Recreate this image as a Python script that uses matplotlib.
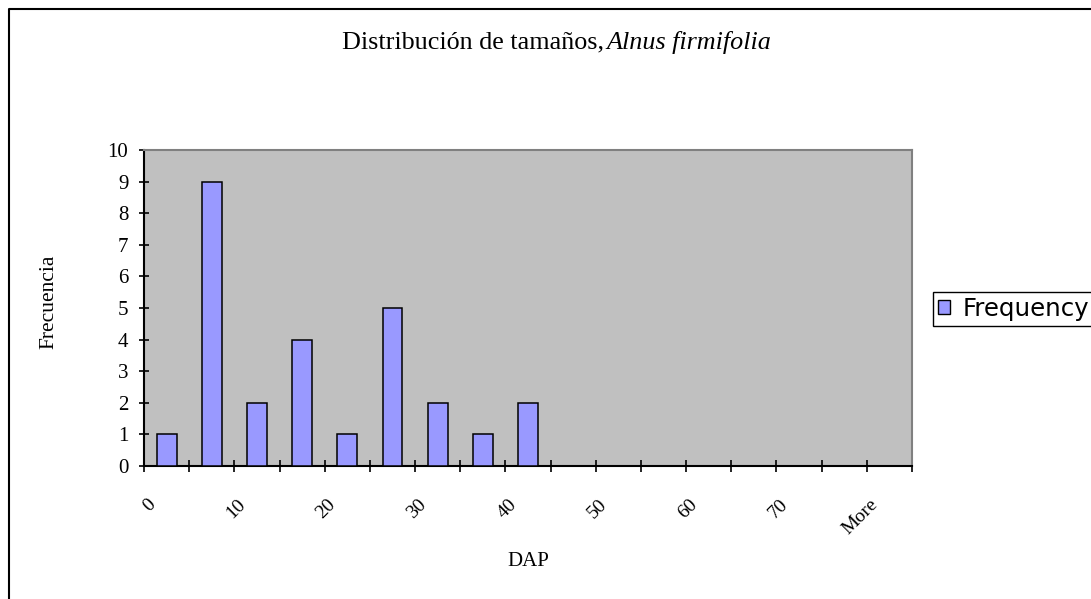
import numpy as np
import matplotlib.pyplot as plt
from matplotlib.lines import Line2D
from matplotlib.patches import Patch
from matplotlib.transforms import ScaledTranslation

# --- DATA ---
bins = ["0", "5", "10", "15", "20", "25", "30", "35", "40", "45",
        "50", "55", "60", "65", "70", "75", "More"]
frequency = [1, 9, 2, 4, 1, 5, 2, 1, 2, 0, 0, 0, 0, 0, 0, 0, 0]
shown_labels = ["0", "10", "20", "30", "40", "50", "60", "70", "More"]

# --- STYLE ---
bar_color = "#9999FF"
plot_bg = "#C0C0C0"
serif = ["Liberation Serif", "DejaVu Serif"]

fig = plt.figure(figsize=(10.91, 5.99), dpi=100)
W, H = 1091, 599
ax = fig.add_axes([144 / W, 1 - 466 / H, (912 - 144) / W, (466 - 150) / H])
ax.set_facecolor(plot_bg)

x = np.arange(len(bins))
ax.bar(x, frequency, width=0.44, color=bar_color, edgecolor="black", linewidth=1.1, zorder=3)

ax.set_xlim(-0.5, len(bins) - 0.5)
ax.set_ylim(0, 10)
ax.set_yticks(range(0, 11))

# labels on every other category, ticks on category borders
label_pos = [bins.index(b) for b in shown_labels]
ax.set_xticks(label_pos)
ax.set_xticklabels(shown_labels, rotation=45, ha="right", va="center",
                   rotation_mode="anchor", family=serif, fontsize=14)
ax.set_xticks(np.arange(-0.5, len(bins)), minor=True)
ax.tick_params(axis="x", which="major", length=0, pad=26)
ax.tick_params(axis="x", which="minor", direction="inout", length=8.6, width=1.2)
ax.tick_params(axis="y", direction="inout", length=7.5, width=1.2, pad=7.5)
for lab in ax.get_yticklabels():
    lab.set_family(serif)
    lab.set_fontsize(15)
shift = ScaledTranslation(-0.14, 0, fig.dpi_scale_trans)
for lab in ax.get_xticklabels():
    lab.set_transform(lab.get_transform() + shift)

for side in ["left", "bottom"]:
    ax.spines[side].set_color("black")
    ax.spines[side].set_linewidth(1.5)
for side in ["top", "right"]:
    ax.spines[side].set_color("#808080")
    ax.spines[side].set_linewidth(1.5)

ax.set_xlabel("DAP", family=serif, fontsize=15)
ax.xaxis.set_label_coords(0.5, -(561 - 466) / 316, transform=ax.transAxes)
ax.xaxis.label.set_va("center")
ax.set_ylabel("Frecuencia", family=serif, fontsize=15.5)
ax.yaxis.set_label_coords((49 - 144) / 768, (466 - 302) / 316)
ax.yaxis.label.set_va("center")

# title with italic species name, centred as a whole
title_y = 1 - 42 / H
t1 = fig.text(0, title_y, "Distribución de tamaños, ", family=serif,
              fontsize=18.8, va="center", ha="left")
t2 = fig.text(0, title_y, "Alnus firmifolia", family=serif, style="italic",
              fontsize=18.8, va="center", ha="left")
fig.canvas.draw()
w1 = t1.get_window_extent().width
w2 = t2.get_window_extent().width
start = 557 - (w1 + w2 - 4) / 2
t1.set_x(start / W)
t2.set_x((start + w1 - 4) / W)

# legend
handle = Patch(facecolor=bar_color, edgecolor="black", linewidth=1.0)
fig.legend([handle], ["Frequency"], loc="upper left",
           bbox_to_anchor=(933 / W, 1 - 292 / H), fancybox=False,
           edgecolor="black", framealpha=1, prop={"family": "DejaVu Sans", "size": 17.6},
           handlelength=0.5, handleheight=0.5, handletextpad=0.5,
           borderpad=0.2, borderaxespad=0)

# chart border (top and left edges visible)
fig.add_artist(Line2D([8.5 / W, 8.5 / W, 1.0], [0, 1 - 9 / H, 1 - 9 / H],
                      color="black", linewidth=1.5, transform=fig.transFigure))

fig.savefig("out.png", dpi=100)
